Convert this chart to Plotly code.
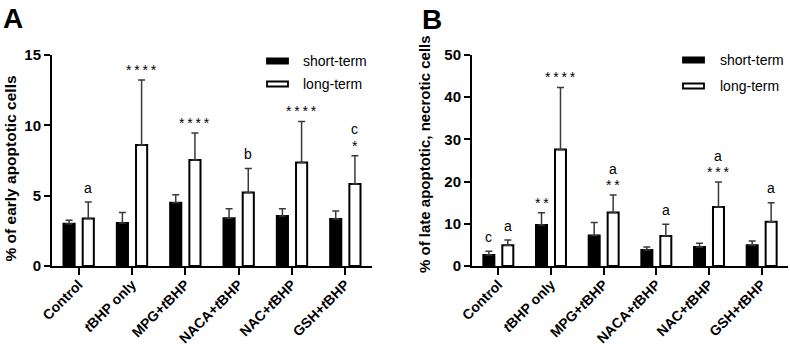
import plotly.graph_objects as go

categories = ["Control", "<i>t</i>BHP only", "MPG+<i>t</i>BHP", "NACA+<i>t</i>BHP", "NAC+<i>t</i>BHP", "GSH+<i>t</i>BHP"]

# Panel A: % of early apoptotic cells
a_short = [3.0, 3.05, 4.5, 3.4, 3.55, 3.35]
a_short_err = [0.25, 0.75, 0.57, 0.67, 0.52, 0.56]
a_long = [3.38, 8.6, 7.53, 5.22, 7.35, 5.83]
a_long_err = [1.17, 4.62, 1.92, 1.72, 2.93, 2.0]
a_labels = [  # (category index, series, stacked texts from bottom)
    (0, "long", ["a"]),
    (1, "long", ["****"]),
    (2, "long", ["****"]),
    (3, "long", ["b"]),
    (4, "long", ["****"]),
    (5, "long", ["*", "c"]),
]

# Panel B: % of late apoptotic, necrotic cells
b_short = [2.6, 9.7, 7.2, 3.8, 4.5, 4.9]
b_short_err = [0.9, 2.9, 3.1, 0.7, 0.9, 1.0]
b_long = [4.9, 27.6, 12.7, 7.1, 14.0, 10.5]
b_long_err = [1.25, 14.7, 4.1, 2.8, 5.9, 4.5]
b_labels = [
    (0, "short", ["c"]),
    (0, "long", ["a"]),
    (1, "short", ["**"]),
    (1, "long", ["****"]),
    (2, "long", ["**", "a"]),
    (3, "long", ["a"]),
    (4, "long", ["***", "a"]),
    (5, "long", ["a"]),
]

series_names = ["short-term", "long-term"]
y_ticks_a = [0, 5, 10, 15]
y_ticks_b = [0, 10, 20, 30, 40, 50]

W, H = 790, 348
FONT = "Liberation Sans, Arial, sans-serif"

def px_x(p):
    return p / W

def px_y(p):
    return 1 - p / H

fig = go.Figure()

panels = [
    dict(xa="x", ya="y", short=a_short, se=a_short_err, long=a_long, le=a_long_err, labels=a_labels),
    dict(xa="x2", ya="y2", short=b_short, se=b_short_err, long=b_long, le=b_long_err, labels=b_labels),
]

xs = list(range(len(categories)))
for p in panels:
    fig.add_trace(go.Bar(
        x=xs, y=p["short"], name=series_names[0], xaxis=p["xa"], yaxis=p["ya"],
        marker=dict(color="black", line=dict(color="black", width=2)),
        error_y=dict(type="data", symmetric=False, array=p["se"], arrayminus=[0] * len(xs),
                     color="#3a3a3a", thickness=1.5, width=3.5),
        showlegend=False, offsetgroup="s",
    ))
    fig.add_trace(go.Bar(
        x=xs, y=p["long"], name=series_names[1], xaxis=p["xa"], yaxis=p["ya"],
        marker=dict(color="white", line=dict(color="black", width=2)),
        error_y=dict(type="data", symmetric=False, array=p["le"], arrayminus=[0] * len(xs),
                     color="#3a3a3a", thickness=1.5, width=3.5),
        showlegend=False, offsetgroup="l",
    ))

annotations = []
OFF = 0.18
for p in panels:
    xref = p["xa"]
    yref = p["ya"]
    for (ci, ser, texts) in p["labels"]:
        if ser == "short":
            xv = ci - OFF
            yv = p["short"][ci] + p["se"][ci]
        else:
            xv = ci + OFF
            yv = p["long"][ci] + p["le"][ci]
        shift = 0
        for k, t in enumerate(texts):
            if "*" in t:
                ys = shift + 10
                shift += 12
                shown = "\u2009".join(t)
            else:
                ys = shift + 14.5
                shift += 12
                shown = t
            annotations.append(dict(
                x=xv, y=yv, xref=xref, yref=yref, text=shown, showarrow=False,
                yanchor="middle", xanchor="center", yshift=ys,
                font=dict(family=FONT, size=14, color="black"),
            ))

# Panel letters
annotations.append(dict(x=px_x(1), y=px_y(1), xref="paper", yref="paper", text="<b>A</b>",
                        showarrow=False, xanchor="left", yanchor="top",
                        font=dict(family=FONT, size=28, color="black")))
annotations.append(dict(x=px_x(420), y=px_y(2), xref="paper", yref="paper", text="<b>B</b>",
                        showarrow=False, xanchor="left", yanchor="top",
                        font=dict(family=FONT, size=28, color="black")))

# Y axis titles
annotations.append(dict(x=px_x(10), y=px_y(168.5), xref="paper", yref="paper",
                        text="<b>% of early apoptotic cells</b>", textangle=-90,
                        showarrow=False, xanchor="center", yanchor="middle",
                        font=dict(family=FONT, size=15.5, color="black")))
annotations.append(dict(x=px_x(424), y=px_y(154), xref="paper", yref="paper",
                        text="<b>% of late apoptotic, necrotic cells</b>", textangle=-90,
                        showarrow=False, xanchor="center", yanchor="middle",
                        font=dict(family=FONT, size=15, color="black")))

# Legends (manual, to match flat rectangle swatches)
shapes = []
for (x0, tx, rows) in [(267, 301, (61, 84)), (683, 718, (60, 86))]:
    for k, yc in enumerate(rows):
        shapes.append(dict(type="rect", xref="paper", yref="paper",
                           x0=px_x(x0), x1=px_x(x0 + 21), y0=px_y(yc - 2.5), y1=px_y(yc + 2.5),
                           fillcolor="black" if k == 0 else "white",
                           line=dict(color="black", width=1.8)))
        annotations.append(dict(x=px_x(tx), y=px_y(yc), xref="paper", yref="paper",
                                text=series_names[k], showarrow=False,
                                xanchor="left", yanchor="middle",
                                font=dict(family=FONT, size=14, color="black")))

axis_common = dict(showline=True, linecolor="black", linewidth=2, ticks="outside",
                   tickcolor="black", tickwidth=2, showgrid=False, zeroline=False,
                   automargin=False)

xtickfont = dict(family=FONT, size=14, color="black", weight="bold")
ytickfont = dict(family=FONT, size=15, color="black", weight="bold")

fig.update_layout(
    width=W, height=H, margin=dict(l=0, r=0, t=0, b=0, autoexpand=False),
    paper_bgcolor="white", plot_bgcolor="white", showlegend=False,
    barmode="group", bargap=0.28, bargroupgap=0.42,
    font=dict(family=FONT, color="black"),
    xaxis=dict(domain=[px_x(52), px_x(372)], range=[-0.5, 5.5], anchor="y",
               tickvals=xs, ticktext=categories, tickangle=-45, ticklen=7,
               ticklabelstandoff=-4, tickfont=xtickfont, **axis_common),
    yaxis=dict(domain=[px_y(266), px_y(55)], range=[0, 15], anchor="x",
               tickvals=y_ticks_a, ticklen=6, tickfont=ytickfont, **axis_common),
    xaxis2=dict(domain=[px_x(472), px_x(788)], range=[-0.5, 5.5], anchor="y2",
                tickvals=xs, ticktext=categories, tickangle=-45, ticklen=7,
                ticklabelstandoff=-4, tickfont=xtickfont, **axis_common),
    yaxis2=dict(domain=[px_y(266), px_y(55)], range=[0, 50], anchor="x2",
                tickvals=y_ticks_b, ticklen=6, tickfont=ytickfont, **axis_common),
    annotations=annotations, shapes=shapes,
)

fig.write_html("out.html", config={"displayModeBar": False},
               post_script="document.body.style.margin='0';document.body.style.overflow='hidden';")
